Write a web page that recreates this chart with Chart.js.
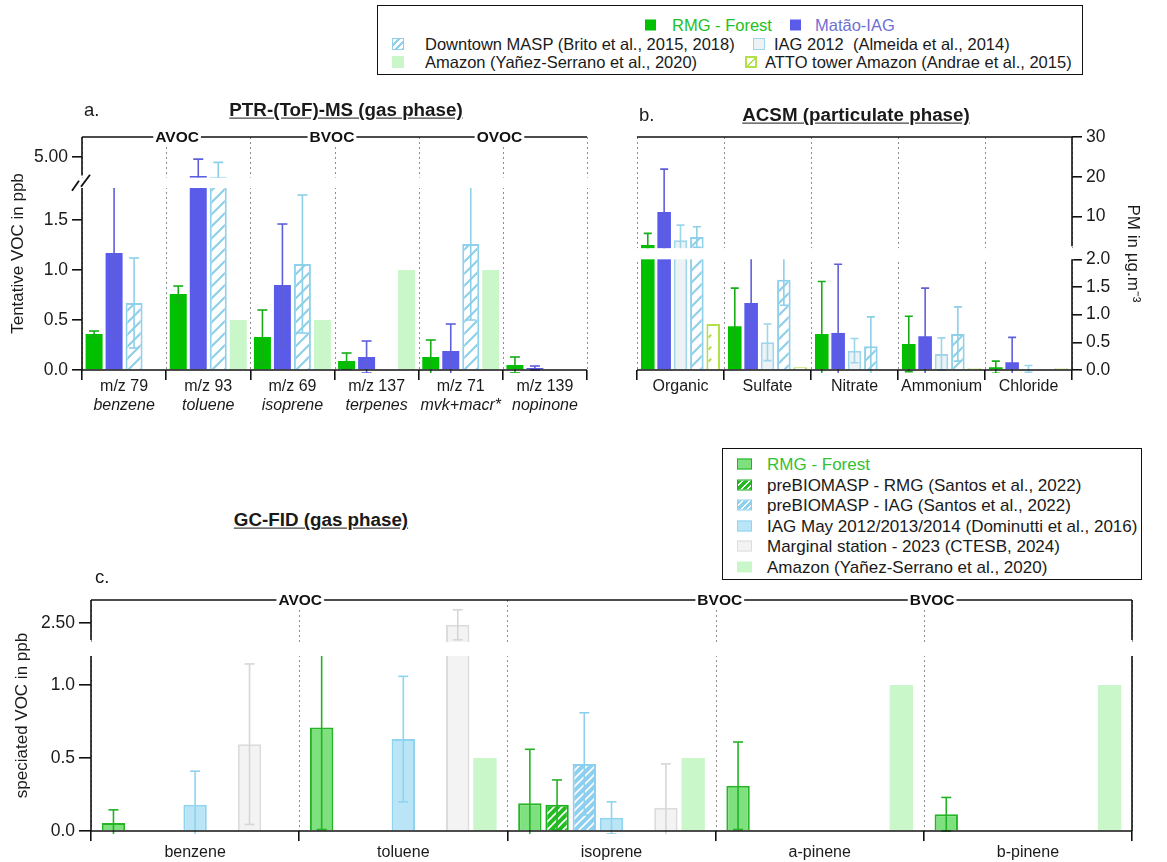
<!DOCTYPE html>
<html>
<head>
<meta charset="utf-8">
<script src="https://cdn.jsdelivr.net/npm/chart.js@4.4.1/dist/chart.umd.min.js"></script>
<style>
body { margin: 0; width: 1167px; height: 862px; position: relative; overflow: hidden; background: #fff; font-family: "Liberation Sans", Arial, sans-serif; color: #1a1a1a; }
canvas { position: absolute; }
.t { position: absolute; white-space: nowrap; transform: translateY(-50%); line-height: 1; }
.title { font-weight: bold; font-size: 18.8px; text-decoration: underline; text-underline-offset: 2px; }
.lg { position: absolute; border: 1.5px solid #111; box-sizing: border-box; }
.sw { position: absolute; box-sizing: border-box; transform: translateY(-50%); }
.l1 { font-size: 16.5px; }
.l2 { font-size: 17px; }
</style>
</head>
<body>
<canvas id="ptr" width="600" height="330" style="left:0;top:90px"></canvas>
<canvas id="acsm" width="547" height="330" style="left:620px;top:90px"></canvas>
<canvas id="gc" width="1167" height="277" style="left:0;top:585px"></canvas>

<div class="t" style="left:84px;top:110px;font-size:18.5px">a.</div>
<div class="t title" style="left:346px;top:110px;transform:translate(-50%,-50%)">PTR-(ToF)-MS (gas phase)</div>
<div class="t" style="left:639px;top:115px;font-size:18.5px">b.</div>
<div class="t title" style="left:856px;top:115px;transform:translate(-50%,-50%)">ACSM (particulate phase)</div>
<div class="t title" style="left:321px;top:520px;transform:translate(-50%,-50%)">GC-FID (gas phase)</div>
<div class="t" style="left:95px;top:577px;font-size:18.5px">c.</div>

<div class="lg" style="left:377px;top:5px;width:706px;height:70px"></div>
<div class="sw" style="left:645px;top:25px;width:11px;height:11px;background:#00c000"></div>
<div class="t l1" style="left:672px;top:25px;color:#22c022">RMG - Forest</div>
<div class="sw" style="left:790px;top:25px;width:11px;height:11px;background:#5b5be9"></div>
<div class="t l1" style="left:815px;top:25px;color:#6f6fd2">Matão-IAG</div>
<div class="sw" style="left:392px;top:44px;width:12px;height:12px;border:1.5px solid #8fd0ea;background:repeating-linear-gradient(135deg,#fff 0 3px,#8fd0ea 3px 5px)"></div>
<div class="t l1" style="left:425px;top:44px">Downtown MASP (Brito et al., 2015, 2018)</div>
<div class="sw" style="left:753px;top:44px;width:12px;height:12px;border:1.5px solid #9fd6ec;background:#edf2f4"></div>
<div class="t l1" style="left:774px;top:44px">IAG 2012&nbsp; (Almeida et al., 2014)</div>
<div class="sw" style="left:392px;top:62px;width:12px;height:12px;background:#c9f7c9"></div>
<div class="t l1" style="left:425px;top:62px">Amazon (Yañez-Serrano et al., 2020)</div>
<div class="sw" style="left:745px;top:62px;width:12px;height:12px;border:2px solid #b2e04a;background:linear-gradient(135deg,#fff 45%,#b2e04a 45% 60%,#fff 60%)"></div>
<div class="t l1" style="left:765px;top:62px">ATTO tower Amazon (Andrae et al., 2015)</div>

<div class="lg" style="left:722px;top:448px;width:420px;height:132px"></div>
<div class="sw" style="left:737px;top:464px;width:15px;height:11px;border:1.5px solid #22b422;background:#7fe07f"></div>
<div class="t l2" style="left:767px;top:464px;color:#33c033">RMG - Forest</div>
<div class="sw" style="left:737px;top:485px;width:15px;height:11px;border:1.5px solid #1fae1f;background:repeating-linear-gradient(135deg,#22bb22 0 3px,#fff 3px 4.5px)"></div>
<div class="t l2" style="left:767px;top:485px">preBIOMASP - RMG (Santos et al., 2022)</div>
<div class="sw" style="left:737px;top:505px;width:15px;height:11px;border:1.5px solid #8dcfee;background:repeating-linear-gradient(135deg,#8dcfee 0 3px,#fff 3px 4.5px)"></div>
<div class="t l2" style="left:767px;top:505px">preBIOMASP - IAG (Santos et al., 2022)</div>
<div class="sw" style="left:737px;top:526px;width:15px;height:11px;border:1.5px solid #8fd3ef;background:#b9e5f6"></div>
<div class="t l2" style="left:767px;top:526px">IAG May 2012/2013/2014 (Dominutti et al., 2016)</div>
<div class="sw" style="left:737px;top:546px;width:15px;height:11px;border:1.5px solid #dcdcdc;background:#f3f3f3"></div>
<div class="t l2" style="left:767px;top:546px">Marginal station - 2023 (CTESB, 2024)</div>
<div class="sw" style="left:737px;top:567px;width:15px;height:11px;background:#c9f7c9"></div>
<div class="t l2" style="left:767px;top:567px">Amazon (Yañez-Serrano et al., 2020)</div>

<script>
// a. PTR-(ToF)-MS
const ptrLabels = ['m/z 79', 'm/z 93', 'm/z 69', 'm/z 137', 'm/z 71', 'm/z 139'];
const ptrNames = ['benzene', 'toluene', 'isoprene', 'terpenes', 'mvk+macr*', 'nopinone'];
const ptrRMG = [0.36, 0.76, 0.33, 0.09, 0.13, 0.05];
const ptrRMGErr = [0.03, 0.08, 0.27, 0.08, 0.17, 0.08];
const ptrMatao = [1.17, 4.54, 0.85, 0.13, 0.19, 0.02];
const ptrMataoErr = [0.85, 0.41, 0.61, 0.16, 0.27, 0.02];
const ptrDowntown = [0.67, 4.52, 1.06, null, 1.26, null];
const ptrDowntownErr = [0.45, 0.35, 0.69, null, 0.76, null];
const ptrAmazon = [null, 0.50, 0.50, 1.00, 1.00, null];
const ptrTicks = [0, 0.5, 1.0, 1.5, 5.0];

// b. ACSM
const acsmLabels = ['Organic', 'Sulfate', 'Nitrate', 'Ammonium', 'Chloride'];
const acsmRMG = [2.76, 0.79, 0.65, 0.47, 0.05];
const acsmRMGErr = [2.95, 0.69, 0.95, 0.50, 0.11];
const acsmMatao = [11.1, 1.21, 0.67, 0.61, 0.14];
const acsmMataoErr = [10.8, 1.0, 1.24, 0.87, 0.45];
const acsmIAG2012 = [4.0, 0.50, 0.35, 0.29, 0.02];
const acsmIAG2012Err = [3.8, 0.33, 0.22, 0.29, 0.06];
const acsmDowntown = [4.8, 1.63, 0.43, 0.65, null];
const acsmDowntownErr = [2.6, 0.46, 0.53, 0.49, null];
const acsmATTO = [0.83, 0.05, 0.02, 0.03, 0.03];
const acsmTicks = [0, 0.5, 1.0, 1.5, 2.0, 10, 20, 30];

// c. GC-FID
const gcLabels = ['benzene', 'toluene', 'isoprene', 'a-pinene', 'b-pinene'];
const gcRMG = [0.055, 0.71, 0.19, 0.31, 0.115];
const gcRMGErr = [0.09, 0.70, 0.37, 0.30, 0.115];
const gcPreRMG = [null, null, 0.18, null, null];
const gcPreRMGErr = [null, null, 0.17, null, null];
const gcPreIAG = [null, null, 0.46, null, null];
const gcPreIAGErr = [null, null, 0.35, null, null];
const gcIAGMay = [0.18, 0.63, 0.09, null, null];
const gcIAGMayErr = [0.23, 0.43, 0.11, null, null];
const gcMarginal = [0.595, 2.48, 0.16, null, null];
const gcMarginalErr = [0.55, 0.20, 0.30, null, null];
const gcAmazon = [null, 0.50, 0.50, 1.00, 1.00];
const gcTicks = [0, 0.5, 1.0, 2.5];

// broken y axes: value range of each segment and the share of the plot height it gets
const BREAKS = {
    ptr: { lowMax: 1.82, highMin: 4.5, highMax: 5.49, lowFrac: 0.781, highFrac: 0.174 },
    acsm: { lowMax: 2.0, highMin: 2.0, highMax: 30, lowFrac: 0.475, highFrac: 0.477 },
    gc: { lowMax: 1.2, highMin: 2.25, highMax: 2.81, lowFrac: 0.758, highFrac: 0.182 }
};

const DECOR = {
    ptr: { groups: [['AVOC', 0.63], ['BVOC', 2.47], ['OVOC', 4.46]], left: true, right: false, slashes: true, cap: 5, italic: ptrNames, labelY: 17 },
    acsm: { groups: [], left: false, right: true, slashes: false, cap: 4, labelY: 17 },
    gc: { groups: [['AVOC', 0.505], ['BVOC', 2.52], ['BVOC', 3.54]], left: true, right: true, slashes: false, cap: 5, labelY: 22 }
};

class BrokenScale extends Chart.LinearScale {
    static id = 'broken';
    static defaults = Chart.LinearScale.defaults;
    brk() {
        return BREAKS[this.chart.canvas.id];
    }
    gapBounds() {
        const b = this.brk(), h = this.bottom - this.top;
        return { top: this.top + b.highFrac * h, bottom: this.bottom - b.lowFrac * h };
    }
    getPixelForValue(v) {
        if (v === null || v === undefined || isNaN(v)) return NaN;
        const b = this.brk(), h = this.bottom - this.top;
        let f;
        if (v <= b.lowMax) {
            f = v / b.lowMax * b.lowFrac;
        } else if (v < b.highMin) {
            f = b.lowFrac + (v - b.lowMax) / (b.highMin - b.lowMax) * (1 - b.lowFrac - b.highFrac);
        } else {
            f = 1 - b.highFrac + (v - b.highMin) / (b.highMax - b.highMin) * b.highFrac;
        }
        return this.bottom - f * h;
    }
    getValueForPixel(p) {
        const b = this.brk(), h = this.bottom - this.top, f = (this.bottom - p) / h;
        if (f <= b.lowFrac) return f / b.lowFrac * b.lowMax;
        if (f < 1 - b.highFrac) {
            const g = 1 - b.lowFrac - b.highFrac;
            return b.lowMax + (f - b.lowFrac) / g * (b.highMin - b.lowMax);
        }
        return b.highMin + (f - 1 + b.highFrac) / b.highFrac * (b.highMax - b.highMin);
    }
}
Chart.register(BrokenScale);

const FONT = '"Liberation Sans", Arial, sans-serif';

function stripes(bg, fg, width, size) {
    const c = document.createElement('canvas');
    c.width = c.height = size;
    const x = c.getContext('2d');
    x.fillStyle = bg;
    x.fillRect(0, 0, size, size);
    x.strokeStyle = fg;
    x.lineWidth = width;
    x.beginPath();
    x.moveTo(-size, size * 2); x.lineTo(size * 2, -size);
    x.moveTo(-size, size); x.lineTo(size, -size);
    x.moveTo(0, size * 2); x.lineTo(size * 2, 0);
    x.stroke();
    return x.createPattern(c, 'repeat');
}

function dashes(fg, size) {
    const c = document.createElement('canvas');
    c.width = c.height = size;
    const x = c.getContext('2d');
    x.fillStyle = '#fff';
    x.fillRect(0, 0, size, size);
    x.strokeStyle = fg;
    x.lineWidth = 2;
    x.beginPath();
    x.moveTo(size * 0.35, size * 0.65); x.lineTo(size * 0.6, size * 0.4);
    x.stroke();
    return x.createPattern(c, 'repeat');
}

function line(ctx, x1, y1, x2, y2) {
    ctx.beginPath();
    ctx.moveTo(x1, y1);
    ctx.lineTo(x2, y2);
    ctx.stroke();
}

const decor = {
    id: 'decor',
    beforeDatasetsDraw(chart) {
        const ctx = chart.ctx, a = chart.chartArea, x = chart.scales.x;
        ctx.save();
        ctx.strokeStyle = '#8c8c8c';
        ctx.lineWidth = 1;
        ctx.setLineDash([2, 3]);
        for (let i = 0; i <= chart.data.labels.length; i++) {
            const px = Math.round(x.getPixelForValue(i - 0.5)) + 0.5;
            line(ctx, px, a.top, px, a.bottom);
        }
        ctx.restore();
    },
    afterDatasetsDraw(chart) {
        const ctx = chart.ctx, a = chart.chartArea, y = chart.scales.y;
        const d = DECOR[chart.canvas.id], b = BREAKS[chart.canvas.id], g = y.gapBounds();
        ctx.save();
        ctx.fillStyle = '#fff';
        ctx.fillRect(a.left - 2, g.top, a.width + 4, g.bottom - g.top);
        ctx.restore();

        chart.data.datasets.forEach((ds, di) => {
            if (!ds.errors) return;
            const meta = chart.getDatasetMeta(di);
            meta.data.forEach((bar, i) => {
                const v = ds.data[i], e = ds.errors[i];
                if (v == null || e == null) return;
                ctx.save();
                ctx.beginPath();
                if (v > b.lowMax) ctx.rect(a.left, a.top, a.width, g.top - a.top);
                else ctx.rect(a.left, g.bottom, a.width, a.bottom - g.bottom + 3);
                ctx.clip();
                const hi = y.getPixelForValue(v + e), lo = y.getPixelForValue(v - e);
                ctx.strokeStyle = ds.errColor;
                ctx.lineWidth = 1.6;
                line(ctx, bar.x, lo, bar.x, hi);
                line(ctx, bar.x - d.cap, hi, bar.x + d.cap, hi);
                line(ctx, bar.x - d.cap, lo, bar.x + d.cap, lo);
                ctx.restore();
            });
        });
    },
    afterDraw(chart) {
        const ctx = chart.ctx, a = chart.chartArea, x = chart.scales.x, y = chart.scales.y;
        const d = DECOR[chart.canvas.id], g = y.gapBounds();
        ctx.save();
        ctx.strokeStyle = '#111';
        ctx.lineWidth = 1.6;
        line(ctx, a.left, a.top, a.right, a.top);
        line(ctx, a.left, a.bottom, a.right, a.bottom);
        if (d.left) {
            line(ctx, a.left, a.top, a.left, g.top - 2);
            line(ctx, a.left, g.bottom, a.left, a.bottom);
        }
        if (d.right) {
            line(ctx, a.right, a.top, a.right, g.top - 2);
            line(ctx, a.right, g.bottom, a.right, a.bottom);
        }
        if (d.slashes) {
            const cy = (g.top + g.bottom) / 2;
            ctx.lineWidth = 1.8;
            line(ctx, a.left - 10, cy + 8, a.left - 3, cy - 2);
            line(ctx, a.left - 1, cy + 4, a.left + 8, cy - 8);
        }

        ctx.font = 'bold 15.5px ' + FONT;
        ctx.textAlign = 'center';
        ctx.textBaseline = 'middle';
        d.groups.forEach(([txt, pos]) => {
            const px = x.getPixelForValue(pos);
            const w = ctx.measureText(txt).width;
            ctx.fillStyle = '#fff';
            ctx.fillRect(px - w / 2 - 2, a.top - 8, w + 4, 16);
            ctx.fillStyle = '#111';
            ctx.fillText(txt, px, a.top + 1);
        });

        ctx.fillStyle = '#1a1a1a';
        chart.data.labels.forEach((lab, i) => {
            const px = x.getPixelForValue(i);
            ctx.font = '16px ' + FONT;
            ctx.fillText(lab, px, a.bottom + d.labelY);
            if (d.italic) {
                ctx.font = 'italic 16px ' + FONT;
                ctx.fillText(d.italic[i], px, a.bottom + d.labelY + 19);
            }
        });
        ctx.restore();
    }
};

function panelOptions(id, o) {
    const b = BREAKS[id];
    return {
        responsive: false,
        animation: false,
        layout: { padding: o.padding },
        datasets: { bar: { categoryPercentage: o.cat, barPercentage: o.bar } },
        plugins: { legend: { display: false }, tooltip: { enabled: false } },
        scales: {
            x: {
                ticks: { display: false },
                border: { display: false },
                grid: { drawOnChartArea: false, tickLength: 10, color: '#111', lineWidth: 1.6 },
                afterFit: s => { s.height = o.xHeight; }
            },
            y: {
                type: 'broken',
                position: o.yPos,
                min: 0,
                max: b.highMax,
                afterBuildTicks: s => { s.ticks = o.ticks.map(v => ({ value: v })); },
                afterFit: s => { s.width = o.yWidth; },
                border: { display: false },
                grid: { drawOnChartArea: false, tickLength: o.tickLen, color: '#111', lineWidth: 1.6 },
                ticks: { autoSkip: false, padding: 4, color: '#1a1a1a', font: { family: FONT, size: 17.5 }, callback: o.fmt },
                title: { display: true, text: o.title, color: '#1a1a1a', font: { family: FONT, size: 17 }, padding: { top: o.titlePad, bottom: 0 } }
            }
        }
    };
}

const ptrChart = new Chart(document.getElementById('ptr'), {
    type: 'bar',
    data: {
        labels: ptrLabels,
        datasets: [
            { label: 'RMG - Forest', data: ptrRMG, errors: ptrRMGErr, errColor: '#17ad17', backgroundColor: '#00c000' },
            { label: 'Matão-IAG', data: ptrMatao, errors: ptrMataoErr, errColor: '#5f5fd8', backgroundColor: '#5b5be9' },
            { label: 'Downtown MASP', data: ptrDowntown, errors: ptrDowntownErr, errColor: '#8ccfe8', backgroundColor: stripes('#fff', '#8fd0ea', 2.2, 12), borderColor: '#8fd0ea', borderWidth: 2 },
            { label: 'Amazon', data: ptrAmazon, backgroundColor: '#c9f7c9' }
        ]
    },
    options: panelOptions('ptr', {
        padding: { left: 0, top: 47, right: 13, bottom: 0 },
        cat: 0.95, bar: 0.85, xHeight: 50, yWidth: 82, yPos: 'left', tickLen: 10,
        ticks: ptrTicks, title: 'Tentative VOC in ppb', titlePad: 8,
        fmt: v => v === 5 ? '5.00' : v.toFixed(1)
    }),
    plugins: [decor]
});

const acsmChart = new Chart(document.getElementById('acsm'), {
    type: 'bar',
    data: {
        labels: acsmLabels,
        datasets: [
            { label: 'RMG - Forest', data: acsmRMG, errors: acsmRMGErr, errColor: '#17ad17', backgroundColor: '#00c000' },
            { label: 'Matão-IAG', data: acsmMatao, errors: acsmMataoErr, errColor: '#5f5fd8', backgroundColor: '#5b5be9' },
            { label: 'IAG 2012', data: acsmIAG2012, errors: acsmIAG2012Err, errColor: '#9dd5ea', backgroundColor: '#edf2f4', borderColor: '#9fd6ec', borderWidth: 2 },
            { label: 'Downtown MASP', data: acsmDowntown, errors: acsmDowntownErr, errColor: '#8ccfe8', backgroundColor: stripes('#fff', '#8fd0ea', 2.2, 12), borderColor: '#8fd0ea', borderWidth: 2 },
            { label: 'ATTO tower Amazon', data: acsmATTO, backgroundColor: dashes('#b2e04a', 12), borderColor: '#b2e04a', borderWidth: 2 }
        ]
    },
    options: panelOptions('acsm', {
        padding: { left: 17, top: 47, right: 20, bottom: 0 },
        cat: 0.94, bar: 0.83, xHeight: 50, yWidth: 75, yPos: 'right', tickLen: 10,
        ticks: acsmTicks, title: 'PM in µg.m⁻³', titlePad: 4,
        fmt: v => v >= 10 ? String(v) : v.toFixed(1)
    }),
    plugins: [decor]
});

const gcChart = new Chart(document.getElementById('gc'), {
    type: 'bar',
    data: {
        labels: gcLabels,
        datasets: [
            { label: 'RMG - Forest', data: gcRMG, errors: gcRMGErr, errColor: '#22b422', backgroundColor: '#7fe07f', borderColor: '#25b525', borderWidth: 2 },
            { label: 'preBIOMASP - RMG', data: gcPreRMG, errors: gcPreRMGErr, errColor: '#22b422', backgroundColor: stripes('#22bb22', '#ffffff', 1.6, 8), borderColor: '#1fae1f', borderWidth: 2 },
            { label: 'preBIOMASP - IAG', data: gcPreIAG, errors: gcPreIAGErr, errColor: '#8dcfee', backgroundColor: stripes('#8dcfee', '#ffffff', 1.6, 8), borderColor: '#8dcfee', borderWidth: 2 },
            { label: 'IAG May 2012/2013/2014', data: gcIAGMay, errors: gcIAGMayErr, errColor: '#8fd3ef', backgroundColor: '#b9e5f6', borderColor: '#8fd3ef', borderWidth: 2 },
            { label: '', data: [null, null, null, null, null] },
            { label: 'Marginal station - 2023', data: gcMarginal, errors: gcMarginalErr, errColor: '#d6d6d6', backgroundColor: '#f3f3f3', borderColor: '#dcdcdc', borderWidth: 2 },
            { label: 'Amazon', data: gcAmazon, backgroundColor: '#c9f7c9' }
        ]
    },
    options: panelOptions('gc', {
        padding: { left: 0, top: 15, right: 35, bottom: 0 },
        cat: 0.915, bar: 0.86, xHeight: 31, yWidth: 91, yPos: 'left', tickLen: 12,
        ticks: gcTicks, title: 'speciated VOC in ppb', titlePad: 12,
        fmt: v => v === 2.5 ? '2.50' : v.toFixed(1)
    }),
    plugins: [decor]
});
</script>
</body>
</html>
